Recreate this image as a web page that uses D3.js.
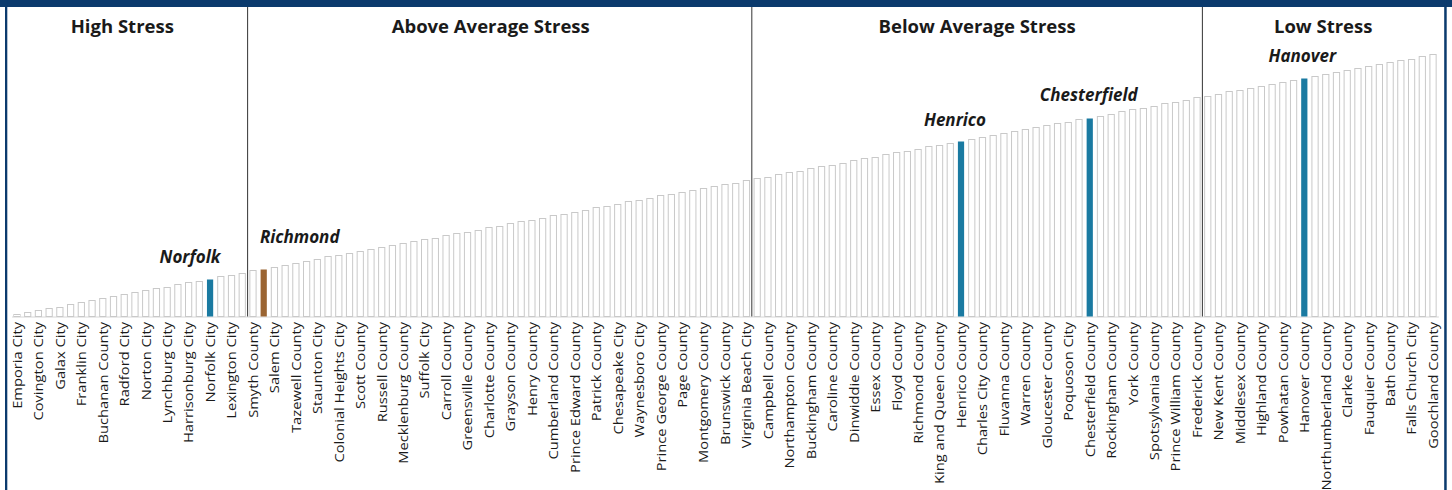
<!DOCTYPE html>
<html>
<head>
<meta charset="utf-8">
<script src="https://cdn.jsdelivr.net/npm/d3@7"></script>
<style>
  body { margin: 0; background: #fff; }
  svg { display: block; }
  text { font-family: "Open Sans", "Noto Sans", sans-serif; fill: #1a1a1a; }
</style>
</head>
<body>
<div id="chart"></div>
<script>
// localities, ranked from most to least stressed
var categories = [
  "Emporia City", "Petersburg City", "Covington City", "Martinsville City", "Galax City",
  "Danville City", "Franklin City", "Dickenson County", "Buchanan County", "Portsmouth City",
  "Radford City", "Lee County", "Norton City", "Hopewell City", "Lynchburg City",
  "Bristol City", "Harrisonburg City", "Buena Vista City", "Norfolk City", "Wise County",
  "Lexington City", "Roanoke City", "Smyth County", "Richmond City", "Salem City",
  "Sussex County", "Tazewell County", "Alleghany County", "Staunton City", "Newport News City",
  "Colonial Heights City", "Pittsylvania County", "Scott County", "Halifax County", "Russell County",
  "Hampton City", "Mecklenburg County", "Lunenburg County", "Suffolk City", "Nottoway County",
  "Carroll County", "Southampton County", "Greensville County", "Wythe County", "Charlotte County",
  "Bland County", "Grayson County", "Winchester City", "Henry County", "Pulaski County",
  "Cumberland County", "Giles County", "Prince Edward County", "Surry County", "Patrick County",
  "Amelia County", "Chesapeake City", "Washington County", "Waynesboro City", "Westmoreland County",
  "Prince George County", "Appomattox County", "Page County", "Accomack County", "Montgomery County",
  "Fredericksburg City", "Brunswick County", "Charlottesville City", "Virginia Beach City", "Craig County",
  "Campbell County", "Lancaster County", "Northampton County", "Shenandoah County", "Buckingham County",
  "Amherst County", "Caroline County", "Manassas Park City", "Dinwiddie County", "Manassas City",
  "Essex County", "Nelson County", "Floyd County", "Rockbridge County", "Richmond County",
  "Isle of Wight County", "King and Queen County", "King William County", "Henrico County", "Williamsburg City",
  "Charles City County", "Louisa County", "Fluvanna County", "Orange County", "Warren County",
  "Franklin County", "Gloucester County", "Augusta County", "Poquoson City", "Mathews County",
  "Chesterfield County", "Culpeper County", "Rockingham County", "Madison County", "York County",
  "Greene County", "Spotsylvania County", "Roanoke County", "Prince William County", "King George County",
  "Frederick County", "Botetourt County", "New Kent County", "Bedford County", "Middlesex County",
  "Stafford County", "Highland County", "Alexandria City", "Powhatan County", "James City County",
  "Hanover County", "Rappahannock County", "Northumberland County", "Albemarle County", "Clarke County",
  "Fairfax City", "Fauquier County", "Arlington County", "Bath County", "Fairfax County",
  "Falls Church City", "Loudoun County", "Goochland County"
];

// index score
var values = [
  2, 4, 6, 8, 9, 12, 14, 16, 18, 20,
  22, 24, 26, 28, 29, 32, 34, 35, 37, 40,
  41, 43, 46, 47, 49, 51, 53, 55, 57, 60,
  61, 63, 65, 67, 69, 71, 73, 75, 77, 78,
  81, 83, 84, 86, 89, 90, 93, 95, 96, 98,
  101, 102, 104, 106, 109, 110, 112, 115, 116, 118,
  121, 122, 124, 126, 128, 130, 132, 133, 136, 138,
  139, 142, 144, 145, 148, 150, 151, 153, 156, 158,
  159, 162, 164, 165, 167, 170, 171, 173, 175, 177,
  179, 181, 183, 185, 187, 189, 191, 193, 194, 197,
  198, 200, 202, 205, 207, 208, 210, 213, 214, 216,
  219, 220, 222, 225, 226, 228, 230, 232, 234, 236,
  238, 240, 242, 244, 246, 248, 250, 252, 254, 256,
  257, 260, 262
];

var groupTitles = ["High Stress", "Above Average Stress", "Below Average Stress", "Low Stress"];
var groupStarts = ["Emporia City", "Smyth County", "Craig County", "Botetourt County"];

var highlighted = ["Norfolk City", "Richmond City", "Henrico County", "Chesterfield County", "Hanover County"];
var highlightColors = ["#1a7aa1", "#9a6432", "#1a7aa1", "#1a7aa1", "#1a7aa1"];
var calloutText = ["Norfolk", "Richmond", "Henrico", "Chesterfield", "Hanover"];

var W = 1452, H = 490;
var base = 316.5;
var navy = "#0b3a6d";

var data = categories.map(function (c, i) {
    return {name: c, value: values[i]};
});

var svg = d3.select("#chart").append("svg")
        .attr("width", W)
        .attr("height", H);

var x = d3.scaleBand()
        .domain(categories)
        .range([11.6, 1438.4])
        .paddingInner(0.42)
        .paddingOuter(0.21);
var y = d3.scaleLinear().domain([0, 262]).range([base, 54.5]);

var bw = x.bandwidth(), step = x.step();

// frame
svg.append("rect").attr("x", 0).attr("y", 0).attr("width", W).attr("height", 7).attr("fill", navy);
svg.append("rect").attr("x", 5).attr("y", 0).attr("width", 2.3).attr("height", H).attr("fill", navy);
svg.append("rect").attr("x", 1444.2).attr("y", 0).attr("width", 2.5).attr("height", H).attr("fill", navy);

// x axis with every other locality
var axis = svg.append("g")
        .attr("class", "axis axis--x")
        .attr("transform", "translate(0," + base + ")")
        .call(d3.axisBottom(x)
                .tickValues(categories.filter(function (d, i) { return i % 2 === 0; }))
                .tickSize(0)
                .tickSizeOuter(0));
axis.select(".domain").attr("stroke", "#d6d6d6");
axis.selectAll("text")
        .attr("transform", "rotate(-90) scale(1.09,1)")
        .attr("text-anchor", "end")
        .attr("x", -5)
        .attr("y", 0)
        .attr("dy", "0.36em")
        .style("font-family", "'Open Sans', sans-serif")
        .style("font-size", "13.5px")
        .style("fill", "#1a1a1a");

// bars
svg.append("g").selectAll(".bar")
        .data(data)
        .enter().append("rect")
        .attr("class", "bar")
        .attr("x", function (d) { return x(d.name); })
        .attr("y", function (d) { return y(d.value); })
        .attr("width", bw)
        .attr("height", function (d) { return base - y(d.value); })
        .attr("fill", function (d) {
            var k = highlighted.indexOf(d.name);
            return k < 0 ? "#fff" : highlightColors[k];
        })
        .attr("stroke", function (d) {
            return highlighted.indexOf(d.name) < 0 ? "#c9c9c9" : "none";
        })
        .attr("stroke-width", 1);

// group dividers and titles
var edges = [7];
groupStarts.slice(1).forEach(function (s) {
    edges.push(x(s) + bw / 2 - step / 2);
});
edges.push(1444);

edges.slice(1, -1).forEach(function (e) {
    svg.append("line")
            .attr("x1", e).attr("x2", e)
            .attr("y1", 7).attr("y2", base)
            .attr("stroke", "#333")
            .attr("stroke-width", 1);
});

var titleNudge = [-5, -9, 0, 0];
svg.selectAll(".group-title")
        .data(groupTitles)
        .enter().append("text")
        .attr("class", "group-title")
        .attr("x", function (d, i) { return (edges[i] + edges[i + 1]) / 2 + titleNudge[i]; })
        .attr("y", 32.5)
        .attr("text-anchor", "middle")
        .style("font-size", "18.5px")
        .style("font-weight", "bold")
        .text(function (d) { return d; });

// callouts over the highlighted localities
var calloutNudge = [[-20, -17], [36, -27], [-6, -16], [-1, -18], [-2, -17]];
svg.selectAll(".callout")
        .data(highlighted)
        .enter().append("text")
        .attr("class", "callout")
        .attr("x", function (d, i) { return x(d) + bw / 2 + calloutNudge[i][0]; })
        .attr("y", function (d, i) { return y(values[categories.indexOf(d)]) + calloutNudge[i][1]; })
        .attr("text-anchor", "middle")
        .style("font-size", "17px")
        .style("font-weight", "bold")
        .style("font-style", "italic")
        .text(function (d, i) { return calloutText[i]; });
</script>
</body>
</html>
